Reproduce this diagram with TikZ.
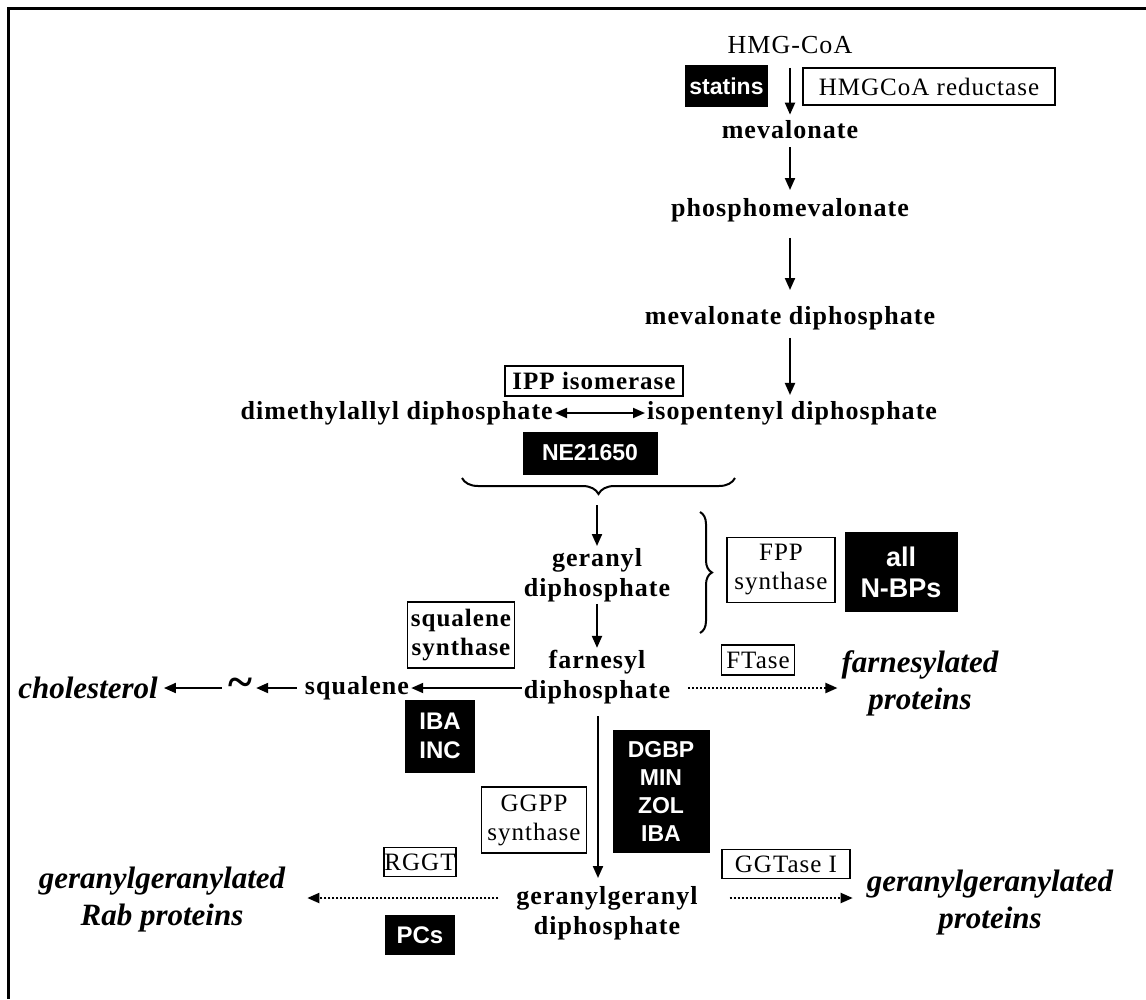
\documentclass[tikz,border=0pt]{standalone}
\usepackage{fontspec}
\setmainfont{Liberation Serif}
\newfontfamily\wserif{Liberation Serif}[LetterSpace=4]
\newfontfamily\arialf{Liberation Sans}
\usetikzlibrary{arrows.meta,decorations.pathreplacing,calc}
\begin{document}
\begin{tikzpicture}[x=1pt,y=-1pt,
  met/.style={font=\wserif\fontsize{26}{30}\selectfont\bfseries, inner sep=2pt, align=center},
  metr/.style={font=\wserif\fontsize{26}{30}\selectfont, inner sep=2pt, align=center},
  enz/.style={draw, line width=1.2pt, font=\wserif\fontsize{25}{29}\selectfont, inner sep=0pt, align=center},
  enzb/.style={enz, font=\wserif\fontsize{25}{29}\selectfont\bfseries},
  inh/.style={fill=black, text=white, font=\arialf\fontsize{23}{27}\selectfont\bfseries, align=center, inner sep=0pt},
  prod/.style={font=\fontsize{31}{37}\selectfont\bfseries\itshape, align=center, inner sep=2pt},
  arr/.style={-{Triangle[length=12pt,width=10pt]}, line width=2pt},
  barr/.style={{Triangle[length=12pt,width=10pt]}-{Triangle[length=12pt,width=10pt]}, line width=2pt},
  darr/.style={arr, dash pattern=on 2pt off 2pt},
]
\useasboundingbox (0,0) rectangle (1146,999);
\draw[line width=3pt] (1146,8) -- (8,8) -- (8,999);

% main pathway
\node[metr] (hmg) at (790,45) {HMG-CoA};
\node[inh, minimum width=83pt, minimum height=42pt] (statins) at (726.5,86) {statins};
\node[enz, minimum width=252pt, minimum height=37pt] (hmgr) at (929,86.5) {HMGCoA reductase};
\node[met] (mev) at (790,130) {mevalonate};
\node[met] (pmev) at (790,210) {phosphomevalonate};
\node[met] (mevdp) at (790,318) {mevalonate diphosphate};
\node[met, anchor=west] (ipp) at (645,413) {isopentenyl diphosphate};
\node[met, anchor=east] (dmapp) at (555,413) {dimethylallyl diphosphate};
\node[enzb, minimum width=178pt, minimum height=30pt] (ippi) at (594,381) {IPP isomerase};
\node[inh, minimum width=135pt, minimum height=43pt] (ne) at (590,453) {NE21650};

\draw[arr] ($(hmg.south)+(0,12)$) -- ($(mev.north)+(0,-4)$);
\draw[arr] ($(mev.south)+(0,6)$) -- ($(pmev.north)+(0,-6)$);
\draw[arr] ($(pmev.south)+(0,14)$) -- ($(mevdp.north)+(0,-14)$);
\draw[arr] ($(mevdp.south)+(0,6)$) -- ($(mevdp.south |- ipp.north)+(0,-4)$);
\draw[barr] (dmapp.east) -- (ipp.west);

% brace
\draw[line width=2pt, decorate, decoration={brace, amplitude=16pt, mirror}] (462,478) -- (735,478);
\coordinate (btip) at (597,505);

\node[met] (gpp) at (597,575) {geranyl\\diphosphate};
\node[met] (fpp) at (597,677) {farnesyl\\diphosphate};
\draw[arr] (btip) -- (gpp.north);
\draw[arr] (gpp.south) -- (fpp.north);

\draw[line width=2pt, decorate, decoration={brace, amplitude=12pt}] (700,512) -- (700,633);
\node[enz, minimum width=108pt, minimum height=65pt] (fpps) at (781,570) {FPP\\synthase};
\node[inh, font=\arialf\fontsize{27}{31}\selectfont\bfseries, minimum width=113pt, minimum height=80pt] (nbp) at (901,572) {all\\N-BPs};

% squalene branch
\node[met] (sq) at (357,688) {squalene};
\node[font=\fontsize{46}{46}\selectfont\bfseries, inner sep=0pt] (tilde) at (240,688) {\char`\~};
\node[prod] (chol) at (88,688) {cholesterol};
\node[enzb, minimum width=107pt, minimum height=66pt] (sqs) at (461,635) {squalene\\synthase};
\node[inh, minimum width=70pt, minimum height=73pt, font=\arialf\fontsize{24}{29}\selectfont\bfseries] (ibainc) at (440,736) {IBA\\INC};
\draw[arr] (fpp.west |- sq.east) -- (sq.east);
\draw[arr, shorten <=6pt, shorten >=4pt] (sq.west) -- (tilde.east);
\draw[arr, shorten <=6pt, shorten >=4pt] (tilde.west) -- (chol.east);

% farnesylation
\node[enz, minimum width=73pt, minimum height=30pt] (ftase) at (758,660) {FTase};
\node[prod] (fprot) at (920,683) {farnesylated\\proteins};
\draw[darr, shorten <=16pt, shorten >=2pt] (fpp.east |- sq.east) -- (fprot.west |- sq.east);

% GGPP
\node[met] (ggpp) at (607,913) {geranylgeranyl\\diphosphate};
\draw[arr] ($(fpp.south)+(1,10)$) -- ($(fpp.south |- ggpp.north)+(1,-6)$);
\node[inh, minimum width=97pt, minimum height=123pt, font=\arialf\fontsize{23}{28}\selectfont\bfseries] (dgbp) at (661,791) {DGBP\\MIN\\ZOL\\IBA};
\node[enz, minimum width=105pt, minimum height=66pt] (ggpps) at (534,820) {GGPP\\synthase};

\node[prod] (rab) at (162,900) {geranylgeranylated\\Rab proteins};
\node[enz, minimum width=72pt, minimum height=29pt] (rggt) at (420,862) {RGGT};
\node[inh, minimum width=70pt, minimum height=40pt, font=\arialf\fontsize{24}{28}\selectfont\bfseries] (pcs) at (420,935) {PCs};
\draw[darr, shorten <=16pt, shorten >=20pt] (ggpp.west |- 0,898) -- (rab.east |- 0,898);

\node[enz, minimum width=128pt, minimum height=29pt] (ggt) at (786,864) {GGTase I};
\node[prod] (ggprot) at (990,903) {geranylgeranylated\\proteins};
\draw[darr, shorten <=30pt, shorten >=12pt] (ggpp.east |- 0,898) -- (ggprot.west |- 0,898);
\end{tikzpicture}
\end{document}
